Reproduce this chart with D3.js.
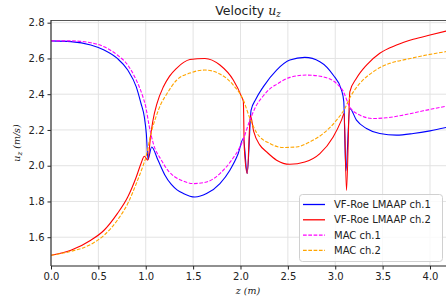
<!DOCTYPE html>
<html>
<head>
<meta charset="utf-8">
<script src="https://cdn.jsdelivr.net/npm/d3@7"></script>
<style>
  body { margin: 0; background: #fff; }
  svg { display: block; font-family: "DejaVu Sans", sans-serif; }
</style>
</head>
<body>
<div id="chart"></div>
<script>
// series: z (m), u_z (m/s)
var roe1Z = [0, 0.21, 0.42, 0.56, 0.70, 0.81, 0.90, 0.95, 0.985, 1.006, 1.024, 1.062, 1.13, 1.2, 1.27, 1.33, 1.396, 1.519, 1.642, 1.783, 1.888, 1.976, 2.03, 2.071, 2.112, 2.16, 2.24, 2.381, 2.521, 2.679, 2.838, 2.978, 3.066, 3.09, 3.112, 3.154, 3.224, 3.33, 3.47, 3.647, 3.823, 4.0, 4.17];
var roe1U = [2.698, 2.694, 2.675, 2.647, 2.60, 2.535, 2.441, 2.348, 2.273, 2.18, 2.035, 2.105, 2.03, 1.95, 1.895, 1.865, 1.845, 1.825, 1.844, 1.90, 1.975, 2.068, 2.152, 1.956, 2.311, 2.37, 2.441, 2.535, 2.591, 2.606, 2.582, 2.507, 2.423, 2.36, 1.97, 2.32, 2.255, 2.208, 2.18, 2.171, 2.18, 2.195, 2.214];

var roe2Z = [0, 0.21, 0.42, 0.56, 0.70, 0.81, 0.90, 0.95, 0.985, 1.022, 1.05, 1.075, 1.12, 1.185, 1.25, 1.325, 1.4, 1.466, 1.624, 1.783, 1.924, 2.012, 2.03, 2.04, 2.071, 2.105, 2.14, 2.205, 2.276, 2.381, 2.521, 2.679, 2.838, 2.978, 3.066, 3.094, 3.119, 3.154, 3.224, 3.33, 3.47, 3.647, 3.823, 4.0, 4.17];
var roe2U = [1.499, 1.527, 1.583, 1.639, 1.732, 1.825, 1.937, 2.012, 2.053, 2.031, 2.16, 2.25, 2.35, 2.44, 2.50, 2.545, 2.578, 2.594, 2.60, 2.563, 2.479, 2.385, 2.36, 2.10, 1.956, 2.28, 2.19, 2.115, 2.077, 2.031, 2.008, 2.021, 2.068, 2.161, 2.255, 2.292, 1.862, 2.413, 2.489, 2.563, 2.629, 2.675, 2.707, 2.731, 2.753];

var mac1Z = [0, 0.21, 0.42, 0.56, 0.70, 0.81, 0.90, 0.967, 1.0, 1.037, 1.08, 1.165, 1.24, 1.30, 1.361, 1.43, 1.501, 1.642, 1.783, 1.906, 2.012, 2.1, 2.16, 2.24, 2.31, 2.381, 2.521, 2.697, 2.873, 3.014, 3.08, 3.154, 3.259, 3.4, 3.541, 3.717, 3.928, 4.17];
var mac1U = [2.698, 2.698, 2.688, 2.665, 2.619, 2.563, 2.479, 2.39, 2.33, 2.22, 2.124, 2.031, 1.97, 1.94, 1.922, 1.907, 1.90, 1.909, 1.956, 2.031, 2.124, 2.255, 2.33, 2.39, 2.43, 2.455, 2.494, 2.507, 2.497, 2.46, 2.42, 2.329, 2.283, 2.264, 2.268, 2.283, 2.307, 2.333];

var mac2Z = [0, 0.21, 0.42, 0.56, 0.70, 0.81, 0.90, 0.967, 1.002, 1.055, 1.108, 1.16, 1.22, 1.325, 1.466, 1.624, 1.783, 1.924, 2.03, 2.099, 2.17, 2.31, 2.451, 2.592, 2.732, 2.873, 3.014, 3.101, 3.154, 3.259, 3.4, 3.576, 3.752, 3.963, 4.17];
var mac2U = [1.499, 1.521, 1.56, 1.611, 1.695, 1.788, 1.90, 1.993, 2.049, 2.18, 2.273, 2.345, 2.40, 2.478, 2.518, 2.535, 2.513, 2.451, 2.367, 2.265, 2.185, 2.124, 2.102, 2.105, 2.133, 2.18, 2.255, 2.32, 2.38, 2.46, 2.525, 2.573, 2.595, 2.619, 2.638];

var seriesNames = ["VF-Roe LMAAP ch.1", "VF-Roe LMAAP ch.2", "MAC ch.1", "MAC ch.2"];
var xTicks = [0, 0.5, 1.0, 1.5, 2.0, 2.5, 3.0, 3.5, 4.0];
var yTicks = [1.6, 1.8, 2.0, 2.2, 2.4, 2.6, 2.8];

function init(){
    var w = 446, h = 297;
    var left = 51, top = 20, right = 446, bottom = 266;

    var series = [
        {name: seriesNames[0], z: roe1Z, u: roe1U, color: "#0000ff", dash: null},
        {name: seriesNames[1], z: roe2Z, u: roe2U, color: "#ff0000", dash: null},
        {name: seriesNames[2], z: mac1Z, u: mac1U, color: "#ff00ff", dash: "3.7,1.6"},
        {name: seriesNames[3], z: mac2Z, u: mac2U, color: "#ffa500", dash: "3.7,1.6"}
    ];

    var xScale = d3.scaleLinear().domain([0, 4.169]).range([left, right]);
    var yScale = d3.scaleLinear().domain([1.439, 2.815]).range([bottom, top]);

    var svg = d3.select("#chart").append("svg")
        .attr("width", w)
        .attr("height", h);

    svg.append("defs").append("clipPath").attr("id", "plot")
        .append("rect")
        .attr("x", left).attr("y", top)
        .attr("width", right - left).attr("height", bottom - top);

    // grid
    svg.append("g").selectAll("line").data(xTicks).enter().append("line")
        .attr("x1", function(d){ return xScale(d); })
        .attr("x2", function(d){ return xScale(d); })
        .attr("y1", top).attr("y2", bottom)
        .attr("stroke", "#e3e3e3").attr("stroke-width", 1);
    svg.append("g").selectAll("line").data(yTicks).enter().append("line")
        .attr("y1", function(d){ return yScale(d); })
        .attr("y2", function(d){ return yScale(d); })
        .attr("x1", left).attr("x2", right)
        .attr("stroke", "#e3e3e3").attr("stroke-width", 1);

    var line = d3.line()
        .x(function(d){ return xScale(d[0]); })
        .y(function(d){ return yScale(d[1]); })
        .curve(d3.curveMonotoneX);

    svg.append("g").attr("clip-path", "url(#plot)")
        .selectAll("path").data(series).enter().append("path")
        .attr("d", function(s){ return line(d3.zip(s.z, s.u)); })
        .attr("fill", "none")
        .attr("stroke", function(s){ return s.color; })
        .attr("stroke-width", 1.1)
        .attr("stroke-dasharray", function(s){ return s.dash; });

    // axes
    var xAxis = d3.axisBottom(xScale).tickValues(xTicks).tickFormat(d3.format(".1f")).tickSize(3.5).tickPadding(3);
    var yAxis = d3.axisLeft(yScale).tickValues(yTicks).tickFormat(d3.format(".1f")).tickSize(3.5).tickPadding(3);

    var gx = svg.append("g").attr("transform", "translate(0," + bottom + ")").call(xAxis);
    var gy = svg.append("g").attr("transform", "translate(" + left + ",0)").call(yAxis);
    [gx, gy].forEach(function(g){
        g.select(".domain").remove();
        g.selectAll(".tick line").attr("stroke", "#222");
        g.selectAll("text").attr("fill", "#222").style("font-size", "10px")
            .style("font-family", "DejaVu Sans, sans-serif");
    });

    // spines
    svg.append("line").attr("x1", left).attr("x2", right).attr("y1", top + 0.5).attr("y2", top + 0.5)
        .attr("stroke", "#555").attr("stroke-width", 1.2);
    svg.append("line").attr("x1", left).attr("x2", right).attr("y1", bottom).attr("y2", bottom)
        .attr("stroke", "#222").attr("stroke-width", 1.2);
    svg.append("line").attr("x1", left).attr("x2", left).attr("y1", top).attr("y2", bottom)
        .attr("stroke", "#333").attr("stroke-width", 1.2);

    // title
    var title = svg.append("text")
        .attr("x", 248).attr("y", 15)
        .attr("text-anchor", "middle")
        .attr("fill", "#222")
        .style("font-size", "12.5px");
    title.append("tspan").text("Velocity ");
    title.append("tspan").text("u").style("font-family", "DejaVu Serif, serif").style("font-style", "italic");
    title.append("tspan").text("z").attr("dy", 2).style("font-size", "8.5px")
        .style("font-family", "DejaVu Serif, serif").style("font-style", "italic");

    // axis labels
    var yl = svg.append("text")
        .attr("transform", "translate(20,143) rotate(-90)")
        .attr("text-anchor", "middle")
        .attr("fill", "#222")
        .style("font-family", "DejaVu Serif, serif")
        .style("font-style", "italic")
        .style("font-size", "9.5px");
    yl.append("tspan").text("u");
    yl.append("tspan").text("z").attr("dy", 2).style("font-size", "7px");
    yl.append("tspan").text(" (m/s)").attr("dy", -2);

    svg.append("text")
        .attr("x", 248).attr("y", 294)
        .attr("text-anchor", "middle")
        .attr("fill", "#222")
        .style("font-family", "DejaVu Serif, serif")
        .style("font-style", "italic")
        .style("font-size", "9.5px")
        .text("z (m)");

    // legend
    var lg = svg.append("g");
    lg.append("rect")
        .attr("x", 299.5).attr("y", 194.5)
        .attr("width", 143).attr("height", 67)
        .attr("rx", 3)
        .attr("fill", "#fff").attr("fill-opacity", 0.8)
        .attr("stroke", "#d0d0d0");
    var items = lg.selectAll("g.item").data(series).enter().append("g")
        .attr("transform", function(d, i){ return "translate(0," + (204.5 + i * 15.3) + ")"; });
    items.append("line")
        .attr("x1", 303).attr("x2", 325).attr("y1", 0).attr("y2", 0)
        .attr("stroke", function(s){ return s.color; })
        .attr("stroke-width", 1.3)
        .attr("stroke-dasharray", function(s){ return s.dash; });
    items.append("text")
        .attr("x", 334).attr("y", 3.6)
        .attr("fill", "#222")
        .style("font-size", "10px")
        .text(function(s){ return s.name; });
}
window.onload = init;
</script>
</body>
</html>
